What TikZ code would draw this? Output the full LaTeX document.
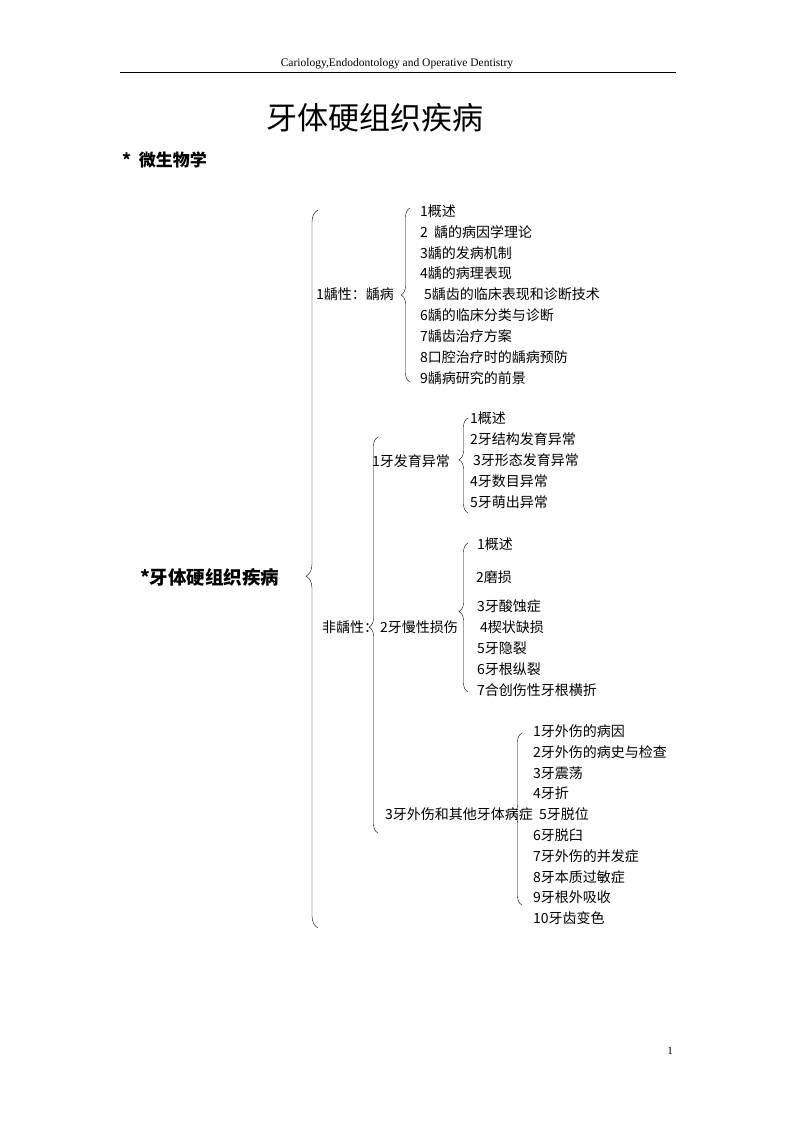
\documentclass[tikz,border=0pt]{standalone}
\usepackage{fontspec}
\setmainfont{Liberation Serif}
\newfontfamily\cjk{Noto Sans CJK SC}
\usetikzlibrary{decorations.pathreplacing}
\tikzset{
 item/.style={anchor=west,inner sep=0pt,font=\cjk\fontsize{14}{16}\selectfont},
 brc/.style 2 args={decorate,thin,decoration={brace,amplitude=#1,aspect=#2}},
}
\begin{document}
\begin{tikzpicture}[x=1pt,y=-1pt]
\useasboundingbox (0,0) rectangle (794,1123);
\node[inner sep=0pt,font=\fontsize{11.5}{12}\selectfont] (hdr) at (397,64) {Cariology,Endodontology and Operative Dentistry};
\coordinate (r1) at (120,72); \coordinate (r2) at (676,72);
\draw[thin] (r1) -- (r2);
\node[inner sep=0pt,font=\cjk\fontsize{31}{34}\selectfont] (title) at (375,118) {牙体硬组织疾病};
\node[anchor=west,inner sep=0pt,font=\cjk\bfseries\fontsize{17}{19}\selectfont] (mic) at (122,160) {*\ \ 微生物学};
\node[anchor=west,inner sep=0pt,font=\cjk\bfseries\fontsize{18.5}{20}\selectfont] (main) at (140,577) {*牙体硬组织疾病};
\node[inner sep=0pt,font=\fontsize{11}{12}\selectfont] (pg) at (670,1051) {1};
% braces
\draw[brc={12pt}{0.49}] (318,928) -- (318,210);
\draw[brc={9pt}{0.52}] (378,833) -- (378,437);
\draw[brc={9pt}{0.5}] (410,382) -- (410,208);
\draw[brc={9pt}{0.56}] (468,513) -- (468,418);
\draw[brc={9pt}{0.54}] (468,692) -- (468,543);
\draw[brc={9pt}{0.53}] (522,905) -- (522,733);
% caries
\node[item] (car) at (316,294) {1龋性：龋病};
\node[item] (c1) at (420,211) {1概述};
\node[item] (c2) at (420,232) {2 \ 龋的病因学理论};
\node[item] (c3) at (420,253) {3龋的发病机制};
\node[item] (c4) at (420,273) {4龋的病理表现};
\node[item] (c5) at (424,294) {5龋齿的临床表现和诊断技术};
\node[item] (c6) at (420,315) {6龋的临床分类与诊断};
\node[item] (c7) at (420,336) {7龋齿治疗方案};
\node[item] (c8) at (420,357) {8口腔治疗时的龋病预防};
\node[item] (c9) at (420,378) {9龋病研究的前景};
% non caries
\node[item] (nc) at (322,627) {非龋性：};
\node[item] (a) at (372,461) {1牙发育异常};
\node[item] (a1) at (470,418) {1概述};
\node[item] (a2) at (470,439) {2牙结构发育异常};
\node[item] (a3) at (473,460) {3牙形态发育异常};
\node[item] (a4) at (470,481) {4牙数目异常};
\node[item] (a5) at (470,502) {5牙萌出异常};
\node[item] (b) at (380,627) {2牙慢性损伤};
\node[item] (b1) at (477,544) {1概述};
\node[item] (b2) at (476,577) {2磨损};
\node[item] (b3) at (477,606) {3牙酸蚀症};
\node[item] (b4) at (480,627) {4楔状缺损};
\node[item] (b5) at (477,648) {5牙隐裂};
\node[item] (b6) at (477,669) {6牙根纵裂};
\node[item] (b7) at (477,690) {7合创伤性牙根横折};
\node[item] (c) at (385,814) {3牙外伤和其他牙体病症};
\node[item] (d1) at (533,731) {1牙外伤的病因};
\node[item] (d2) at (533,752) {2牙外伤的病史与检查};
\node[item] (d3) at (533,773) {3牙震荡};
\node[item] (d4) at (533,793) {4牙折};
\node[item] (d5) at (539,814) {5牙脱位};
\node[item] (d6) at (533,835) {6牙脱臼};
\node[item] (d7) at (533,856) {7牙外伤的并发症};
\node[item] (d8) at (533,877) {8牙本质过敏症};
\node[item] (d9) at (533,897) {9牙根外吸收};
\node[item] (d10) at (533,918) {10牙齿变色};
\end{tikzpicture}
\end{document}
